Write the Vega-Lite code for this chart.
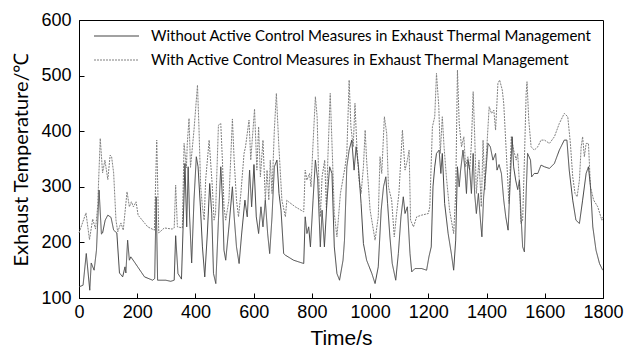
{
  "$schema": "https://vega.github.io/schema/vega-lite/v6.json",
  "width": 524,
  "height": 278,
  "autosize": "none",
  "padding": {"left": 79, "top": 20, "right": 24, "bottom": 51},
  "background": "white",
  "config": {
    "view": {"stroke": "#000", "strokeWidth": 1},
    "axis": {"grid": false, "domainColor": "#000", "tickColor": "#000", "labelColor": "#000", "titleColor": "#000", "labelFont": "Liberation Sans", "labelFontSize": 18, "tickSize": -5, "labelFontWeight": "normal", "titleFontWeight": "normal", "labelOverlap": false, "labelFlush": false, "format": "d"}
  },
  "datasets": {
    "without": [
      {"t":0,"T":120},{"t":14,"T":123},{"t":25,"T":180},{"t":37,"T":114},{"t":42,"T":163},{"t":52,"T":150},{"t":60,"T":186},{"t":69,"T":294},{"t":77,"T":215},{"t":81,"T":217},{"t":90,"T":240},{"t":99,"T":249},{"t":110,"T":245},{"t":119,"T":222},{"t":130,"T":217},{"t":139,"T":145},{"t":150,"T":138},{"t":158,"T":156},{"t":161,"T":145},{"t":167,"T":204},{"t":173,"T":168},{"t":178,"T":174},{"t":190,"T":165},{"t":225,"T":138},{"t":253,"T":132},{"t":260,"T":135},{"t":265,"T":282},{"t":270,"T":132},{"t":298,"T":132},{"t":315,"T":130},{"t":327,"T":132},{"t":332,"T":212},{"t":340,"T":144},{"t":352,"T":134},{"t":358,"T":235},
      {"t":364,"T":342},{"t":370,"T":228},{"t":375,"T":336},{"t":380,"T":246},{"t":387,"T":163},{"t":395,"T":276},{"t":403,"T":354},{"t":409,"T":336},{"t":417,"T":264},{"t":424,"T":192},{"t":432,"T":138},{"t":441,"T":217},{"t":449,"T":306},{"t":456,"T":252},{"t":462,"T":144},{"t":470,"T":126},{"t":479,"T":240},{"t":487,"T":336},{"t":493,"T":276},{"t":498,"T":186},{"t":504,"T":168},{"t":515,"T":228},{"t":527,"T":300},{"t":533,"T":246},{"t":541,"T":192},{"t":550,"T":162},{"t":559,"T":217},{"t":570,"T":276},{"t":578,"T":246},{"t":586,"T":330},{"t":593,"T":264},{"t":601,"T":340},{"t":609,"T":246},{"t":617,"T":216},{"t":625,"T":264},{"t":632,"T":228},{"t":640,"T":276},{"t":648,"T":216},{"t":655,"T":180},{"t":663,"T":246},{"t":671,"T":336},{"t":680,"T":348},{"t":687,"T":288},{"t":694,"T":258},{"t":703,"T":180},{"t":709,"T":177},{"t":737,"T":168},{"t":772,"T":162},{"t":777,"T":246},{"t":783,"T":216},{"t":789,"T":228},{"t":795,"T":192},{"t":804,"T":276},{"t":812,"T":348},{"t":820,"T":312},{"t":829,"T":192},{"t":835,"T":258},{"t":843,"T":192},{"t":852,"T":276},{"t":861,"T":336},{"t":869,"T":324},{"t":877,"T":192},{"t":886,"T":144},{"t":895,"T":132},{"t":907,"T":168},{"t":912,"T":204},{"t":920,"T":336},{"t":928,"T":366},{"t":937,"T":384},{"t":945,"T":330},{"t":952,"T":372},{"t":960,"T":336},{"t":969,"T":270},{"t":977,"T":198},{"t":988,"T":168},{"t":1006,"T":144},{"t":1017,"T":126},{"t":1028,"T":156},{"t":1038,"T":258},{"t":1046,"T":300},{"t":1054,"T":318},{"t":1060,"T":270},{"t":1068,"T":210},{"t":1076,"T":162},{"t":1088,"T":132},{"t":1097,"T":180},{"t":1106,"T":246},{"t":1114,"T":282},{"t":1120,"T":252},{"t":1128,"T":264},{"t":1137,"T":180},{"t":1143,"T":147},{"t":1154,"T":153},{"t":1177,"T":153},{"t":1194,"T":150},{"t":1202,"T":174},{"t":1210,"T":192},{"t":1216,"T":300},{"t":1222,"T":336},{"t":1228,"T":360},{"t":1237,"T":366},{"t":1243,"T":324},{"t":1248,"T":360},{"t":1256,"T":270},{"t":1268,"T":216},{"t":1279,"T":180},{"t":1287,"T":150},{"t":1294,"T":204},{"t":1300,"T":336},{"t":1306,"T":300},{"t":1311,"T":330},{"t":1319,"T":366},{"t":1325,"T":336},{"t":1331,"T":288},{"t":1336,"T":348},{"t":1342,"T":330},{"t":1348,"T":288},{"t":1354,"T":360},{"t":1359,"T":288},{"t":1365,"T":252},{"t":1372,"T":288},{"t":1379,"T":240},{"t":1384,"T":210},{"t":1390,"T":282},{"t":1397,"T":324},{"t":1405,"T":378},{"t":1413,"T":372},{"t":1422,"T":348},{"t":1431,"T":360},{"t":1436,"T":330},{"t":1443,"T":340},{"t":1451,"T":324},{"t":1459,"T":276},{"t":1466,"T":246},{"t":1474,"T":222},{"t":1482,"T":318},{"t":1488,"T":390},{"t":1493,"T":336},{"t":1500,"T":312},{"t":1507,"T":295},{"t":1513,"T":312},{"t":1518,"T":252},{"t":1524,"T":192},{"t":1530,"T":183},{"t":1536,"T":288},{"t":1541,"T":360},{"t":1551,"T":348},{"t":1555,"T":318},{"t":1564,"T":324},{"t":1576,"T":324},{"t":1587,"T":339},{"t":1599,"T":336},{"t":1616,"T":333},{"t":1633,"T":342},{"t":1650,"T":366},{"t":1667,"T":384},{"t":1676,"T":384},{"t":1684,"T":330},{"t":1696,"T":276},{"t":1707,"T":240},{"t":1719,"T":234},{"t":1730,"T":276},{"t":1742,"T":324},{"t":1750,"T":336},{"t":1757,"T":300},{"t":1765,"T":228},{"t":1776,"T":186},{"t":1788,"T":162},{"t":1799,"T":150}
    ],
    "with": [
      {"t":0,"T":217},{"t":12,"T":235},{"t":24,"T":253},{"t":36,"T":205},{"t":47,"T":242},{"t":57,"T":224},{"t":64,"T":264},{"t":73,"T":387},{"t":81,"T":325},{"t":89,"T":348},{"t":99,"T":313},{"t":107,"T":357},{"t":112,"T":354},{"t":119,"T":325},{"t":127,"T":240},{"t":133,"T":219},{"t":144,"T":235},{"t":152,"T":222},{"t":165,"T":291},{"t":173,"T":264},{"t":180,"T":273},{"t":187,"T":264},{"t":196,"T":273},{"t":203,"T":249},{"t":236,"T":228},{"t":259,"T":222},{"t":267,"T":384},{"t":274,"T":217},{"t":293,"T":226},{"t":320,"T":224},{"t":327,"T":226},{"t":332,"T":303},{"t":338,"T":228},{"t":355,"T":226},{"t":361,"T":378},{"t":369,"T":334},{"t":372,"T":378},{"t":378,"T":423},{"t":383,"T":335},{"t":395,"T":402},{"t":407,"T":483},{"t":412,"T":408},{"t":418,"T":300},{"t":424,"T":264},{"t":430,"T":240},{"t":435,"T":312},{"t":447,"T":384},{"t":458,"T":300},{"t":464,"T":240},{"t":469,"T":252},{"t":479,"T":411},{"t":487,"T":414},{"t":493,"T":343},{"t":498,"T":264},{"t":504,"T":240},{"t":515,"T":276},{"t":527,"T":422},{"t":533,"T":348},{"t":541,"T":276},{"t":548,"T":246},{"t":556,"T":288},{"t":567,"T":360},{"t":572,"T":372},{"t":584,"T":420},{"t":590,"T":348},{"t":603,"T":440},{"t":611,"T":330},{"t":617,"T":408},{"t":623,"T":318},{"t":632,"T":384},{"t":640,"T":276},{"t":646,"T":330},{"t":652,"T":276},{"t":657,"T":348},{"t":663,"T":288},{"t":671,"T":402},{"t":678,"T":468},{"t":686,"T":378},{"t":697,"T":276},{"t":709,"T":246},{"t":714,"T":276},{"t":720,"T":273},{"t":743,"T":264},{"t":772,"T":255},{"t":777,"T":330},{"t":783,"T":312},{"t":792,"T":324},{"t":797,"T":300},{"t":804,"T":378},{"t":812,"T":462},{"t":818,"T":426},{"t":823,"T":324},{"t":829,"T":246},{"t":835,"T":318},{"t":844,"T":348},{"t":850,"T":258},{"t":855,"T":354},{"t":863,"T":468},{"t":871,"T":348},{"t":877,"T":252},{"t":886,"T":210},{"t":898,"T":288},{"t":914,"T":336},{"t":920,"T":360},{"t":928,"T":492},{"t":934,"T":408},{"t":942,"T":372},{"t":948,"T":450},{"t":954,"T":378},{"t":962,"T":312},{"t":969,"T":288},{"t":977,"T":336},{"t":983,"T":402},{"t":988,"T":348},{"t":1000,"T":258},{"t":1017,"T":204},{"t":1028,"T":246},{"t":1034,"T":354},{"t":1040,"T":324},{"t":1049,"T":426},{"t":1057,"T":396},{"t":1063,"T":300},{"t":1074,"T":276},{"t":1083,"T":210},{"t":1091,"T":252},{"t":1099,"T":288},{"t":1111,"T":402},{"t":1120,"T":330},{"t":1128,"T":348},{"t":1134,"T":366},{"t":1139,"T":240},{"t":1149,"T":228},{"t":1160,"T":246},{"t":1177,"T":249},{"t":1200,"T":252},{"t":1205,"T":264},{"t":1214,"T":408},{"t":1222,"T":426},{"t":1228,"T":504},{"t":1236,"T":444},{"t":1241,"T":360},{"t":1248,"T":426},{"t":1254,"T":372},{"t":1262,"T":318},{"t":1273,"T":258},{"t":1287,"T":216},{"t":1294,"T":288},{"t":1300,"T":510},{"t":1306,"T":414},{"t":1314,"T":372},{"t":1322,"T":390},{"t":1328,"T":336},{"t":1336,"T":354},{"t":1342,"T":330},{"t":1348,"T":378},{"t":1354,"T":471},{"t":1359,"T":396},{"t":1365,"T":288},{"t":1374,"T":348},{"t":1382,"T":264},{"t":1388,"T":384},{"t":1394,"T":294},{"t":1399,"T":354},{"t":1409,"T":444},{"t":1417,"T":432},{"t":1425,"T":438},{"t":1431,"T":402},{"t":1439,"T":486},{"t":1445,"T":492},{"t":1454,"T":474},{"t":1459,"T":450},{"t":1468,"T":360},{"t":1477,"T":270},{"t":1485,"T":390},{"t":1493,"T":366},{"t":1502,"T":348},{"t":1507,"T":360},{"t":1513,"T":306},{"t":1518,"T":234},{"t":1524,"T":240},{"t":1530,"T":348},{"t":1536,"T":468},{"t":1539,"T":489},{"t":1545,"T":420},{"t":1553,"T":372},{"t":1564,"T":366},{"t":1576,"T":372},{"t":1587,"T":384},{"t":1599,"T":384},{"t":1616,"T":378},{"t":1633,"T":390},{"t":1650,"T":414},{"t":1667,"T":432},{"t":1679,"T":426},{"t":1688,"T":378},{"t":1696,"T":318},{"t":1704,"T":288},{"t":1711,"T":282},{"t":1719,"T":312},{"t":1725,"T":372},{"t":1730,"T":390},{"t":1736,"T":354},{"t":1742,"T":378},{"t":1750,"T":378},{"t":1757,"T":300},{"t":1768,"T":276},{"t":1782,"T":264},{"t":1796,"T":240},{"t":1800,"T":246}
    ]
  },
  "encoding": {
    "x": {"field": "t", "type": "quantitative", "scale": {"domain": [0, 1800], "nice": false}, "axis": {"values": [0,200,400,600,800,1000,1200,1400,1600,1800], "title": "Time/s", "titleFont": "Liberation Sans", "titleFontSize": 21, "titlePadding": 6, "labelPadding": 10}},
    "y": {"field": "T", "type": "quantitative", "scale": {"domain": [100, 600], "nice": false}, "axis": {"values": [100,200,300,400,500,600], "title": "Exhaust Temperature/℃", "titleFont": "Lato", "titleFontSize": 20, "titlePadding": 9, "labelPadding": 13}}
  },
  "layer": [
    {
      "data": {"name": "with"},
      "mark": {"type": "line", "strokeWidth": 1},
      "encoding": {
        "color": {"datum": "With Active Control Measures in Exhaust Thermal Management", "type": "nominal"},
        "strokeDash": {"datum": "With Active Control Measures in Exhaust Thermal Management", "type": "nominal"}
      }
    },
    {
      "data": {"name": "without"},
      "mark": {"type": "line", "strokeWidth": 1},
      "encoding": {
        "color": {"datum": "Without Active Control Measures in Exhaust Thermal Management", "type": "nominal", "scale": {"domain": ["Without Active Control Measures in Exhaust Thermal Management", "With Active Control Measures in Exhaust Thermal Management"], "range": ["#444444", "#808080"]}, "legend": {"title": null, "orient": "none", "legendX": 14, "legendY": 8, "symbolType": "stroke", "symbolSize": 2025, "symbolStrokeWidth": 1.2, "labelFont": "Lato", "labelFontSize": 15, "labelColor": "#000", "labelOffset": 11, "clipHeight": 16, "rowPadding": 8, "labelLimit": 600}},
        "strokeDash": {"datum": "Without Active Control Measures in Exhaust Thermal Management", "type": "nominal", "scale": {"domain": ["Without Active Control Measures in Exhaust Thermal Management", "With Active Control Measures in Exhaust Thermal Management"], "range": [[1, 0], [2, 1]]}, "legend": {"title": null, "orient": "none", "legendX": 14, "legendY": 8, "symbolType": "stroke", "symbolSize": 2025, "symbolStrokeWidth": 1.2, "labelFont": "Lato", "labelFontSize": 15, "labelColor": "#000", "labelOffset": 11, "clipHeight": 16, "rowPadding": 8, "labelLimit": 600}}
      }
    }
  ]
}
